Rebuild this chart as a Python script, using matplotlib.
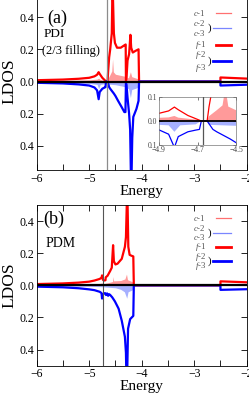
import numpy as np
import matplotlib
matplotlib.use("Agg")
import matplotlib.pyplot as plt
from matplotlib.ticker import MultipleLocator, FuncFormatter
from matplotlib.lines import Line2D

plt.rcParams['font.family'] = ['Liberation Serif', 'DejaVu Serif']
plt.rcParams['mathtext.fontset'] = 'custom'
plt.rcParams['mathtext.rm'] = 'Liberation Serif'
plt.rcParams['mathtext.it'] = 'Liberation Serif:italic'

# ---- panel (a): PDI, 2/3 filling ----
ef_a = -4.67
f1_a_E = [-6.0, -5.5, -5.2, -5.0, -4.9, -4.85, -4.82, -4.80, -4.75, -4.71, -4.68, -4.65,
          -4.64, -4.62, -4.60, -4.57, -4.555, -4.53, -4.51, -4.47, -4.40, -4.33, -4.305,
          -4.30, -4.29, -4.27, -4.24, -4.215, -4.20, -4.17, -4.12, -4.06, -4.05, -2.5,
          -2.5, -2.0]
f1_a = [0.008, 0.012, 0.017, 0.023, 0.032, 0.042, 0.058, 0.047, 0.023, 0.01, 0.0, 0.0,
        0.06, 0.15, 0.2, 0.3, 0.62, 0.3, 0.24, 0.21, 0.21, 0.225, 0.23,
        0.005, 0.02, 0.13, 0.17, 0.29, 0.21, 0.18, 0.19, 0.2, 0.0, 0.0,
        0.025, 0.018]
f23_a_E = [-6.0, -5.5, -5.2, -5.0, -4.9, -4.85, -4.82, -4.80, -4.75, -4.71, -4.69, -4.68,
           -4.65, -4.62, -4.60, -4.53, -4.50, -4.45, -4.38, -4.33, -4.31, -4.30, -4.29,
           -4.27, -4.24, -4.22, -4.20, -4.18, -4.16, -4.10, -4.06, -4.05, -2.5, -2.5, -2.0]
f23_a = [-0.008, -0.012, -0.018, -0.025, -0.037, -0.055, -0.11, -0.065, -0.045, -0.038,
         -0.035, 0.0, 0.0, -0.035, -0.045, -0.075, -0.09, -0.12, -0.16, -0.19, -0.19,
         -0.01, -0.02, -0.1, -0.2, -0.3, -0.7, -0.35, -0.22, -0.17, -0.12, 0.0, 0.0,
         -0.025, -0.02]
c1_a_E = [-6.0, -5.0, -4.85, -4.82, -4.80, -4.71, -4.68, -4.65, -4.64, -4.60, -4.57, -4.555,
          -4.54, -4.50, -4.40, -4.31, -4.30, -4.25, -4.215, -4.19, -4.10, -4.05, -4.04, -2.0]
c1_a = [0.005, 0.01, 0.015, 0.021, 0.014, 0.006, 0.0, 0.0, 0.02, 0.045, 0.065, 0.14,
        0.06, 0.045, 0.038, 0.032, 0.02, 0.025, 0.06, 0.03, 0.02, 0.015, 0.0, 0.0]
c23_a_E = [-6.0, -5.0, -4.85, -4.82, -4.79, -4.71, -4.68, -4.65, -4.64, -4.50, -4.35,
           -4.30, -4.25, -4.215, -4.19, -4.10, -4.05, -4.04, -2.0]
c23_a = [-0.005, -0.012, -0.018, -0.045, -0.018, -0.014, 0.0, 0.0, -0.016, -0.02, -0.03,
         -0.035, -0.045, -0.1, -0.05, -0.04, -0.03, 0.0, 0.0]

# ---- panel (b): PDM ----
ef_b = -4.73
f1_b_E = [-6.0, -5.5, -5.2, -5.0, -4.9, -4.8, -4.765, -4.755, -4.74, -4.72, -4.69, -4.685,
          -4.65, -4.60, -4.57, -4.545, -4.53, -4.50, -4.46, -4.38, -4.32, -4.30, -4.275,
          -4.255, -4.23, -4.20, -4.16, -4.15, -2.5, -2.5, -2.0]
f1_b = [0.008, 0.012, 0.017, 0.023, 0.03, 0.04, 0.048, 0.062, 0.035, 0.03, 0.032, 0.05,
        0.06, 0.09, 0.11, 0.25, 0.15, 0.13, 0.135, 0.165, 0.24, 0.3, 0.62,
        0.24, 0.19, 0.185, 0.18, 0.0, 0.0, 0.025, 0.019]
f23_b_E = [-6.0, -5.5, -5.2, -5.0, -4.9, -4.8, -4.765, -4.755, -4.74, -4.70, -4.68, -4.66,
           -4.64, -4.62, -4.60, -4.56, -4.51, -4.44, -4.38, -4.32, -4.30, -4.285, -4.26,
           -4.22, -4.16, -4.15, -2.5, -2.5, -2.0]
f23_b = [-0.008, -0.012, -0.018, -0.025, -0.03, -0.04, -0.048, -0.082, -0.055, -0.048,
         -0.06, -0.05, -0.065, -0.055, -0.06, -0.075, -0.1, -0.145, -0.22, -0.32, -0.42,
         -0.7, -0.27, -0.21, -0.19, 0.0, 0.0, -0.028, -0.024]
c1_b_E = [-6.0, -5.0, -4.8, -4.76, -4.73, -4.60, -4.555, -4.545, -4.535, -4.40, -4.32,
          -4.29, -4.27, -4.16, -4.15, -2.0]
c1_b = [0.004, 0.008, 0.012, 0.015, 0.01, 0.02, 0.024, 0.055, 0.028, 0.03, 0.04,
        0.07, 0.035, 0.02, 0.0, 0.0]
c23_b_E = [-6.0, -5.0, -4.8, -4.7, -4.5, -4.4, -4.33, -4.285, -4.26, -4.16, -4.15, -2.0]
c23_b = [-0.004, -0.006, -0.008, -0.01, -0.015, -0.025, -0.04, -0.08, -0.04, -0.025,
         0.0, 0.0]

RED = '#ff0000'
BLUE = '#0000ff'
LRED = '#ff9a9a'
LBLUE = '#a6b0ff'

W, H = 249, 397
fig = plt.figure(figsize=(W / 100, H / 100), dpi=100)


def px_axes(x0, y0, x1, y1):
    # pixel box (top-left origin) -> figure axes
    return fig.add_axes([x0 / W, 1 - y1 / H, (x1 - x0) / W, (y1 - y0) / H])


absfmt = FuncFormatter(lambda v, p: '%.1f' % abs(v))


def draw(ax, ef, f1E, f1, f23E, f23, c1E, c1, c23E, c23, lw=1.6, flw=1.6):
    ax.fill_between(c1E, 0, c1, color=LRED, lw=0)
    ax.fill_between(c23E, 0, c23, color=LBLUE, lw=0)
    ax.plot(f1E, f1, color=RED, lw=lw)
    ax.plot(f23E, f23, color=BLUE, lw=lw)
    ax.axhline(0, color='black', lw=flw, zorder=5)


def style_main(ax, ylim):
    ax.set_xlim(-6, -2)
    ax.set_ylim(*ylim)
    ax.xaxis.set_major_locator(MultipleLocator(1))
    ax.xaxis.set_minor_locator(MultipleLocator(0.5))
    ax.yaxis.set_major_locator(MultipleLocator(0.2))
    ax.yaxis.set_major_formatter(absfmt)
    ax.tick_params(which='both', direction='in', top=True, right=True,
                   labelsize=8.5, pad=2)
    ax.tick_params(which='major', length=4, width=0.6)
    ax.tick_params(which='minor', length=4, width=0.6)
    ax.set_xlabel('Energy', fontsize=11, labelpad=0)
    ax.set_ylabel('LDOS', fontsize=12.5, labelpad=1)
    for s in ax.spines.values():
        s.set_linewidth(0.6)


def legend(y_c1, y_c2, y_c3, y_f1, y_f2, y_f3):
    tx = 206
    gray = '#555555'
    for y, s in [(y_c1, '$c$-1'), (y_c2, '$c$-2'), (y_c3, '$c$-3'),
                 (y_f1, '$f$-1'), (y_f2, '$f$-2'), (y_f3, '$f$-3')]:
        fig.text(tx / W, 1 - y / H, s, ha='right', va='center', fontsize=6.3, color=gray)
    for ya, yb in [(y_c2, y_c3), (y_f2, y_f3)]:
        fig.text(209 / W, 1 - (ya + yb) / 2 / H, ')', ha='center', va='center',
                 fontsize=8, color='black')
    items = [(y_c1, '#ff7070', 0.9, 216),
             ((y_c2 + y_c3) / 2, '#7a86ff', 0.9, 213),
             (y_f1, RED, 2.0, 216),
             ((y_f2 + y_f3) / 2, BLUE, 2.0, 213)]
    for y, c, lw, x0 in items:
        fig.add_artist(Line2D([x0 / W, 231 / W], [1 - y / H, 1 - y / H],
                              color=c, lw=lw, transform=fig.transFigure))


# panel (a)
axa = px_axes(36.7, -7, 246.7, 170)
draw(axa, ef_a, f1_a_E, f1_a, f23_a_E, f23_a, c1_a_E, c1_a, c23_a_E, c23_a)
axa.axvline(ef_a, color='#8c8c8c', lw=0.9, zorder=4)
style_main(axa, (-0.55, 0.55))
axa.text(0.048, 0.857, '(a)', transform=axa.transAxes, fontsize=13, va='center')
axa.text(0.031, 0.768, 'PDI', transform=axa.transAxes, fontsize=9.5, va='center')
axa.text(0.027, 0.672, '(2/3 filling)', transform=axa.transAxes, fontsize=9, va='center')
legend(13.3, 23.3, 33.3, 45, 55, 67.5)

# inset
axi = px_axes(159, 97, 236, 145)
draw(axi, ef_a, f1_a_E, f1_a, f23_a_E, f23_a, c1_a_E, c1_a, c23_a_E, c23_a,
     lw=0.9, flw=1.3)
axi.axvline(ef_a, color='#555555', lw=0.9, zorder=4)
axi.set_xlim(-4.9, -4.5)
axi.set_ylim(-0.1, 0.1)
axi.set_xticks([-4.9, -4.7, -4.5])
axi.set_yticks([-0.1, 0.0, 0.1])
axi.yaxis.set_major_formatter(absfmt)
axi.tick_params(direction='in', top=True, right=True, labelsize=5.5, length=2,
                width=0.5, pad=1, colors='#444444')
for s in axi.spines.values():
    s.set_linewidth(0.5)
    s.set_color('#777777')

# panel (b)
axb = px_axes(36.7, 205, 246.7, 365.7)
draw(axb, ef_b, f1_b_E, f1_b, f23_b_E, f23_b, c1_b_E, c1_b, c23_b_E, c23_b)
axb.axvline(ef_b, color='#555555', lw=0.8, zorder=4)
style_main(axb, (-0.5, 0.5))
axb.text(0.031, 0.91, '(b)', transform=axb.transAxes, fontsize=13, va='center')
axb.text(0.044, 0.76, 'PDM', transform=axb.transAxes, fontsize=10, va='center')
legend(217.7, 228.3, 237.3, 247.3, 256.7, 266)

fig.savefig('out.png', dpi=100)
